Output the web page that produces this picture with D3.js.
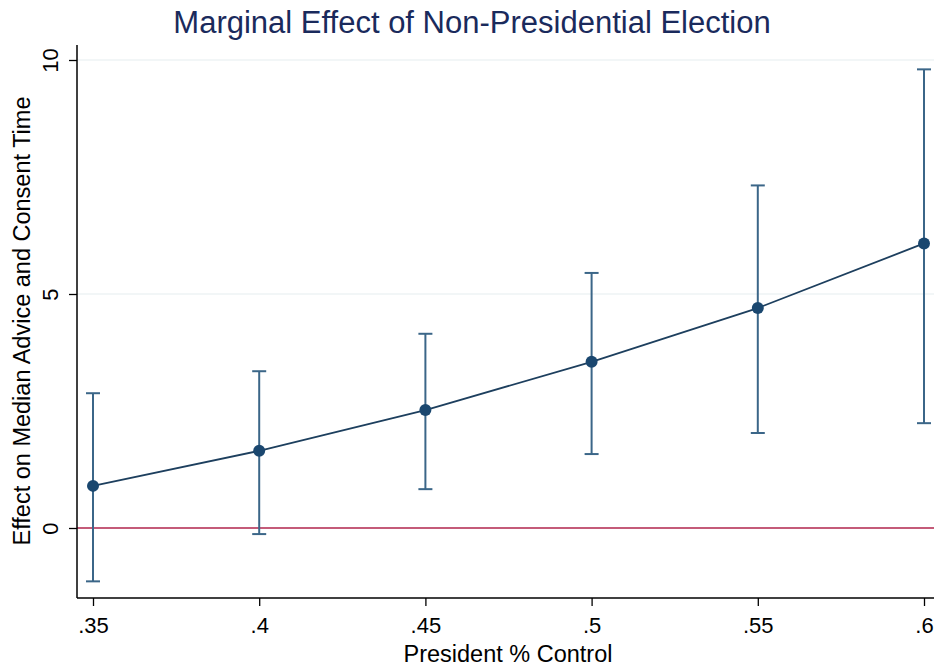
<!DOCTYPE html>
<html>
<head>
	<title>Marginal Effect</title>
	<script src="https://d3js.org/d3.v7.min.js"></script>
	<style>
		body { margin: 0; background: #fff; }
		text { font-family: "Liberation Sans", Arial, sans-serif; }
	</style>
</head>
<body>
	<svg width="934" height="666"></svg>
	<script type="text/javascript">
		let xValues = [0.35, 0.40, 0.45, 0.50, 0.55, 0.60];
		let effect = [0.90, 1.65, 2.52, 3.55, 4.70, 6.08];
		let upper = [2.88, 3.35, 4.15, 5.45, 7.32, 9.80];
		let lower = [-1.14, -0.13, 0.83, 1.58, 2.03, 2.24];
		let xTicks = [0.35, 0.40, 0.45, 0.50, 0.55, 0.60];
		let xTickLabels = [".35", ".4", ".45", ".5", ".55", ".6"];
		let yTicks = [0, 5, 10];

		let svg = d3.select("svg");
		let navy = "#1a476f";
		let ciColor = "#3b6688";

		let x = d3.scaleLinear().domain([0.35, 0.60]).range([93, 924]);
		let y = d3.scaleLinear().domain([0, 10]).range([528, 60]);
		let plotLeft = 77, plotTop = 45, plotBottom = 598, plotRight = 940;

		// gridlines
		svg.append("g").selectAll("line").data(yTicks.filter(d => d != 0)).join("line")
			.attr("x1", plotLeft).attr("x2", plotRight)
			.attr("y1", d => y(d)).attr("y2", d => y(d))
			.attr("stroke", "#e6eef0").attr("stroke-width", 1.2);

		// reference line at 0
		svg.append("line")
			.attr("x1", plotLeft).attr("x2", plotRight)
			.attr("y1", y(0)).attr("y2", y(0))
			.attr("stroke", "#b0244c").attr("stroke-width", 1.6);

		// y axis
		let yAxis = d3.axisLeft(y).tickValues(yTicks).tickSize(8).tickFormat(d3.format("d"));
		let gy = svg.append("g").attr("transform", "translate(" + plotLeft + ",0)").call(yAxis);
		gy.select(".domain").remove();
		gy.selectAll(".tick line").attr("stroke", "#000").attr("stroke-width", 1.3);
		gy.selectAll(".tick text")
			.attr("font-size", 22).attr("fill", "#000")
			.attr("x", 0).attr("y", 0).attr("dy", 0)
			.attr("text-anchor", "middle")
			.attr("transform", "translate(-19,0) rotate(-90)");
		svg.append("line").attr("x1", plotLeft).attr("x2", plotLeft)
			.attr("y1", plotTop).attr("y2", plotBottom)
			.attr("stroke", "#000").attr("stroke-width", 1.5);

		// x axis
		let xAxis = d3.axisBottom(x).tickValues(xTicks).tickSize(8)
			.tickFormat((d, i) => xTickLabels[i]);
		let gx = svg.append("g").attr("transform", "translate(0," + plotBottom + ")").call(xAxis);
		gx.select(".domain").remove();
		gx.selectAll(".tick line").attr("stroke", "#000").attr("stroke-width", 1.3);
		gx.selectAll(".tick text").attr("font-size", 22).attr("fill", "#000").attr("y", 19);
		svg.append("line").attr("x1", plotLeft).attr("x2", plotRight)
			.attr("y1", plotBottom).attr("y2", plotBottom)
			.attr("stroke", "#000").attr("stroke-width", 1.5);

		// error bars
		let bars = svg.append("g").selectAll("g").data(xValues).join("g");
		bars.append("line")
			.attr("x1", d => x(d)).attr("x2", d => x(d))
			.attr("y1", (d, i) => y(upper[i])).attr("y2", (d, i) => y(lower[i]))
			.attr("stroke", ciColor).attr("stroke-width", 2);
		bars.append("line")
			.attr("x1", d => x(d) - 7).attr("x2", d => x(d) + 7)
			.attr("y1", (d, i) => y(upper[i])).attr("y2", (d, i) => y(upper[i]))
			.attr("stroke", ciColor).attr("stroke-width", 2);
		bars.append("line")
			.attr("x1", d => x(d) - 7).attr("x2", d => x(d) + 7)
			.attr("y1", (d, i) => y(lower[i])).attr("y2", (d, i) => y(lower[i]))
			.attr("stroke", ciColor).attr("stroke-width", 2);

		// line
		svg.append("path")
			.datum(xValues)
			.attr("fill", "none")
			.attr("stroke", "#1d3f5e")
			.attr("stroke-width", 1.8)
			.attr("d", d3.line().x(d => x(d)).y((d, i) => y(effect[i])));

		// points
		svg.append("g").selectAll("circle").data(xValues).join("circle")
			.attr("cx", d => x(d)).attr("cy", (d, i) => y(effect[i]))
			.attr("r", 6).attr("fill", navy);

		// titles
		svg.append("text").attr("x", 472).attr("y", 33)
			.attr("text-anchor", "middle").attr("font-size", 31).attr("fill", "#1a2a5c")
			.text("Marginal Effect of Non-Presidential Election");
		svg.append("text").attr("x", 508).attr("y", 662)
			.attr("text-anchor", "middle").attr("font-size", 23.5).attr("fill", "#000")
			.text("President % Control");
		svg.append("text")
			.attr("transform", "translate(30," + 321 + ") rotate(-90)")
			.attr("text-anchor", "middle").attr("font-size", 23.5).attr("fill", "#000")
			.text("Effect on Median Advice and Consent Time");
	</script>
</body>
</html>
